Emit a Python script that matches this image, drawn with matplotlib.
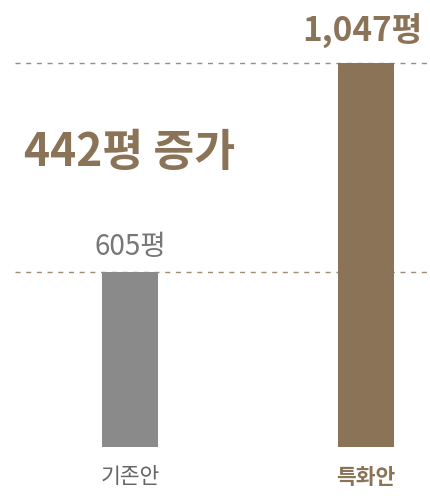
import matplotlib.pyplot as plt

plt.rcParams['font.family'] = ['Noto Sans CJK KR', 'DejaVu Sans']

# data
categories = ['기존안', '특화안']
areas = [605, 1047]
value_labels = ['605평', '1,047평']
increase_label = '442평 증가'

gray = '#8a8a8a'
brown = '#8b7358'
bar_colors = [gray, brown]

fig = plt.figure(figsize=(4.31, 4.96), dpi=100)
ax = fig.add_axes([0, 49 / 496, 1, 447 / 496])
ax.set_xlim(-0.551, 1.275)
ax.set_ylim(235, 1180)
ax.axis('off')

x = range(len(categories))
ax.bar(x, areas, width=0.237, color=bar_colors, zorder=2)

# dashed reference lines at each bar top
for v in areas:
    ax.axhline(v, xmin=0.035, xmax=0.995, color='#a08c74', lw=1.0,
               ls=(0, (3.6, 4.1)), zorder=1)

# value labels
ax.text(0.0, areas[0] + 22, value_labels[0], ha='center', va='bottom',
        fontsize=20, color='#777777')
ax.text(1.24, areas[1] + 30, value_labels[1], ha='right', va='bottom',
        fontsize=24, fontweight='bold', color=brown)

# increase annotation
ax.text(-0.45, (areas[0] + areas[1]) / 2 + 30, increase_label, ha='left',
        va='center', fontsize=32, fontweight='bold', color=brown)

# category labels below the bars
for i, name in enumerate(categories):
    ax.text(i, 171, name, ha='center', va='center', fontsize=15.5,
            color='#666666' if i == 0 else brown,
            fontweight='normal' if i == 0 else 'bold', clip_on=False)

fig.savefig('out.png', dpi=100)
